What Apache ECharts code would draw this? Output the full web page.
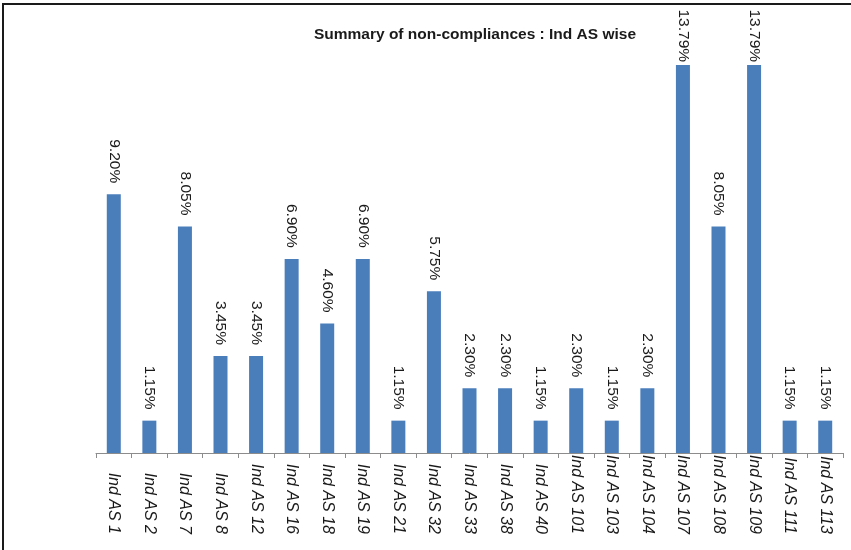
<!DOCTYPE html>
<html>
<head>
<meta charset="utf-8">
<script src="https://cdn.jsdelivr.net/npm/echarts@6/dist/echarts.min.js"></script>
<style>
    body { margin: 0; background: #fff; }
    #chart { position: absolute; left: 0; top: 0; width: 851px; height: 550px; }
    /* frame line on the left and top only, like the scanned page */
    .frame { position: absolute; left: 2px; top: 3px; width: 900px; height: 600px;
             border-left: 2px solid #1a1a1a; border-top: 2px solid #1a1a1a; pointer-events: none; }
</style>
</head>
<body>
<div id="chart"></div>
<div class="frame"></div>
<script>
var standards = ['Ind AS 1', 'Ind AS 2', 'Ind AS 7', 'Ind AS 8', 'Ind AS 12', 'Ind AS 16', 'Ind AS 18',
    'Ind AS 19', 'Ind AS 21', 'Ind AS 32', 'Ind AS 33', 'Ind AS 38', 'Ind AS 40', 'Ind AS 101',
    'Ind AS 103', 'Ind AS 104', 'Ind AS 107', 'Ind AS 108', 'Ind AS 109', 'Ind AS 111', 'Ind AS 113'];
var shares = [9.20, 1.15, 8.05, 3.45, 3.45, 6.90, 4.60, 6.90, 1.15, 5.75, 2.30, 2.30, 1.15, 2.30,
    1.15, 2.30, 13.79, 8.05, 13.79, 1.15, 1.15];

var chart = echarts.init(document.getElementById('chart'));

// tallest bars have their labels squeezed against the top of the plot
var barData = shares.map(function (v) {
    return v > 13 ? { value: v, label: { distance: 3 } } : v;
});

chart.setOption({
    animation: false,
    title: {
        text: 'Summary of non-compliances : Ind AS wise',
        left: 470,
        top: 22,
        textAlign: 'center',
        textStyle: { fontFamily: 'Liberation Sans', fontSize: 15.5, fontWeight: 'bold', color: '#1a1a1a' }
    },
    grid: { left: 96, right: 8, top: 31, bottom: 97 },
    xAxis: {
        type: 'category',
        data: standards,
        axisLine: { lineStyle: { color: '#8c8c8c', width: 1 } },
        axisTick: { show: true, length: 5, lineStyle: { color: '#8c8c8c' } },
        axisLabel: {
            interval: 0,
            rotate: -90,
            margin: 81,
            align: 'right',
            verticalAlign: 'middle',
            fontFamily: 'Liberation Sans',
            fontStyle: 'italic',
            fontSize: 16,
            color: '#1a1a1a'
        }
    },
    yAxis: {
        type: 'value',
        min: 0,
        max: 15,
        show: false,
        splitLine: { show: false }
    },
    series: [{
        type: 'bar',
        data: barData,
        barWidth: 14,
        itemStyle: { color: '#4a7ebb' },
        label: {
            show: true,
            position: 'top',
            distance: 11,
            rotate: -90,
            align: 'right',
            verticalAlign: 'middle',
            fontFamily: 'Liberation Sans',
            fontSize: 15.5,
            color: '#1a1a1a',
            formatter: function (p) { return p.value.toFixed(2) + '%'; }
        }
    }]
});
</script>
</body>
</html>
